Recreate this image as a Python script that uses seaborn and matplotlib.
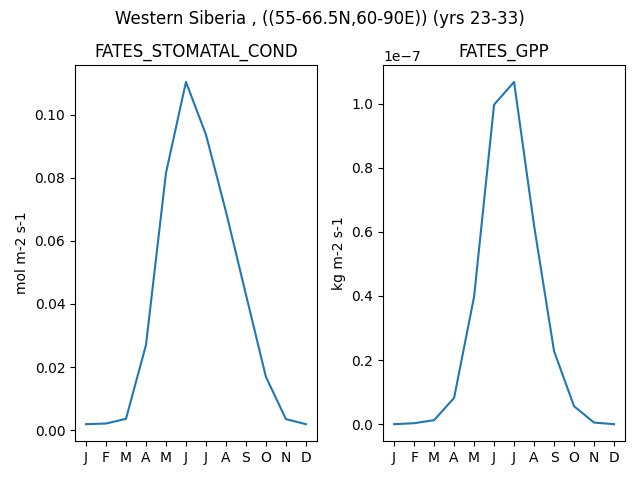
import numpy as np
import pandas as pd
import seaborn as sns
import matplotlib
matplotlib.use("Agg")
import matplotlib.pyplot as plt

months = ['J', 'F', 'M', 'A', 'M', 'J', 'J', 'A', 'S', 'O', 'N', 'D']
stomatal_cond = [0.0019, 0.0021, 0.0036, 0.0270, 0.0815, 0.1104, 0.0937,
                 0.0693, 0.0430, 0.0169, 0.0035, 0.0019]
gpp = [0.000, 0.003, 0.0125, 0.082, 0.398, 0.997, 1.068,
       0.620, 0.228, 0.056, 0.005, 0.000]
gpp = [v * 1e-7 for v in gpp]

df = pd.DataFrame({'month': np.arange(1, 13),
                   'FATES_STOMATAL_COND': stomatal_cond,
                   'FATES_GPP': gpp})

fig, axes = plt.subplots(1, 2, figsize=(6.4, 4.8), dpi=100)

panels = [('FATES_STOMATAL_COND', 'mol m-2 s-1'),
          ('FATES_GPP', 'kg m-2 s-1')]
for ax, (var, units) in zip(axes, panels):
    sns.lineplot(data=df, x='month', y=var, ax=ax, color='tab:blue')
    ax.set_title(var)
    ax.set_ylabel(units)
    ax.set_xlabel('')
    ax.set_xticks(np.arange(1, 13))
    ax.set_xticklabels(months)

fig.suptitle('Western Siberia , ((55-66.5N,60-90E)) (yrs 23-33)')
fig.tight_layout()
fig.subplots_adjust(top=0.865)
fig.savefig('out.png', dpi=100)
